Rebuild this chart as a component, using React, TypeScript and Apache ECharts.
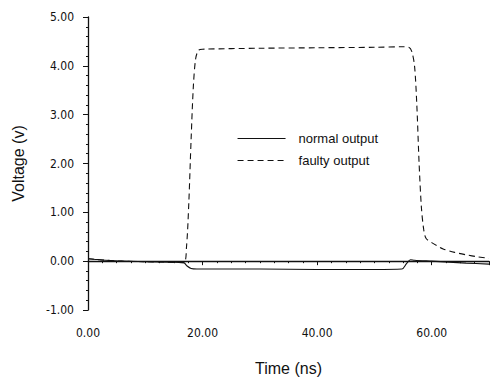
import React, { useEffect, useRef } from "react";
import * as echarts from "echarts";

const seriesNames = ["normal output", "faulty output"];

const normalTime = [0, 1, 3, 6, 10, 14, 16.7, 17.3, 18, 19, 25, 30, 40, 50, 54.8, 55.6, 56.3, 57, 60, 63, 66, 70];
const normalVolt = [0.05, 0.04, 0.02, 0.0, -0.01, -0.02, -0.03, -0.1, -0.15, -0.16, -0.16, -0.16, -0.17, -0.17, -0.16, -0.05, 0.03, 0.02, 0.0, -0.02, -0.04, -0.06];

const faultyTime = [0, 1, 3, 6, 10, 14, 16.7, 17.2, 17.6, 18.0, 18.4, 18.8, 19.3, 20, 30, 40, 50, 55, 56, 56.5, 57, 57.4, 57.8, 58.2, 58.6, 59, 60, 61, 62, 64, 66, 68, 70];
const faultyVolt = [0.05, 0.04, 0.02, 0.0, -0.01, -0.02, -0.03, 0.3, 1.2, 2.5, 3.6, 4.15, 4.32, 4.34, 4.36, 4.37, 4.38, 4.39, 4.38, 4.3, 4.0, 3.2, 2.0, 1.1, 0.65, 0.47, 0.38, 0.31, 0.25, 0.18, 0.13, 0.09, 0.06];

const xTicks = [0, 20, 40, 60];
const yTicks = [-1, 0, 1, 2, 3, 4, 5];

const xTitle = "Time (ns)";
const yTitle = "Voltage (v)";

const numFont = "'Liberation Sans Narrow', 'DejaVu Sans Condensed', 'Liberation Sans', sans-serif";
const textFont = "'Liberation Sans', 'DejaVu Sans', sans-serif";
const ink = "#111";

export default function App() {
  const ref = useRef<HTMLDivElement>(null);
  useEffect(() => {
    if (!ref.current) return;
    const chart = echarts.init(ref.current, null, { renderer: "svg" });
    chart.setOption({
      animation: false,
      backgroundColor: "#fff",
      grid: { left: 88, top: 17, right: 4, bottom: 67, containLabel: false },
      legend: {
        orient: "vertical",
        left: 232,
        top: 127,
        itemWidth: 48,
        itemHeight: 10,
        itemGap: 9,
        itemStyle: { opacity: 0 },
        lineStyle: { width: 1.1 },
        textStyle: { fontFamily: textFont, fontSize: 13, color: ink, padding: [0, 0, 0, 8] },
        data: seriesNames.map((n) => ({ name: n })),
      },
      xAxis: {
        type: "value",
        min: 0,
        max: 70,
        interval: 20,
        name: xTitle,
        nameLocation: "middle",
        nameGap: 50,
        nameTextStyle: { fontFamily: textFont, fontSize: 16, color: ink },
        axisLine: { show: true, lineStyle: { color: ink, width: 1.3 } },
        axisTick: { show: true, length: 4, lineStyle: { color: ink } },
        minorTick: { show: true, splitNumber: 8, length: 2, lineStyle: { color: ink } },
        splitLine: { show: false },
        axisLabel: {
          showMaxLabel: false,
          margin: 17,
          fontFamily: numFont,
          fontSize: 12,
          color: ink,
          formatter: (v: number) => (xTicks.includes(v) ? v.toFixed(2) : ""),
        },
      },
      yAxis: {
        type: "value",
        min: -1,
        max: 5,
        interval: 1,
        name: yTitle,
        nameLocation: "middle",
        nameGap: 62,
        nameTextStyle: { fontFamily: textFont, fontSize: 16, color: ink },
        axisLine: { show: true, lineStyle: { color: ink, width: 1.3 } },
        axisTick: { show: true, length: 5, lineStyle: { color: ink } },
        minorTick: { show: true, splitNumber: 5, length: 2, lineStyle: { color: ink } },
        splitLine: { show: false },
        axisLabel: {
          margin: 14,
          fontFamily: numFont,
          fontSize: 12,
          color: ink,
          formatter: (v: number) => (yTicks.includes(v) ? v.toFixed(2) : ""),
        },
      },
      series: [
        {
          name: seriesNames[0],
          type: "line",
          symbol: "none",
          smooth: 0.3,
          data: normalTime.map((t, i) => [t, normalVolt[i]]),
          lineStyle: { color: ink, width: 1.1, type: "solid" },
          itemStyle: { color: ink },
        },
        {
          name: seriesNames[1],
          type: "line",
          symbol: "none",
          smooth: 0.3,
          data: faultyTime.map((t, i) => [t, faultyVolt[i]]),
          lineStyle: { color: ink, width: 1.1, type: [6, 4] },
          itemStyle: { color: ink },
        },
      ],
    });
    return () => chart.dispose();
  }, []);
  return (
    <div
      ref={ref}
      style={{ position: "absolute", left: 0, top: 0, width: 493, height: 381 }}
    />
  );
}
